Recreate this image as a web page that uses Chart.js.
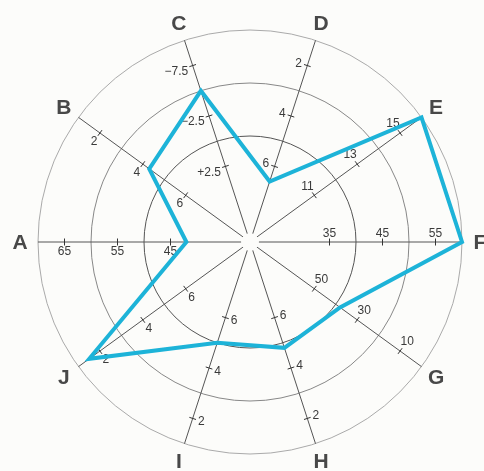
<!DOCTYPE html>
<html>
<head>
<meta charset="utf-8">
<script src="https://cdn.jsdelivr.net/npm/chart.js@4/dist/chart.umd.min.js"></script>
<style>
  html, body { margin: 0; padding: 0; background: #fcfcfa; }
  canvas { display: block; }
</style>
</head>
<body>
<canvas id="radar" width="484" height="471"></canvas>
<script>
// axes, clockwise starting at the left
const labels = ['A', 'B', 'C', 'D', 'E', 'F', 'G', 'H', 'I', 'J'];
// value of each axis at the centre and on the outer ring
const axisInner = [30, 9, 10, 9, 8, 20, 80, 9, 9, 9];
const axisOuter = [70, 1, -10, 1, 16, 60, 0, 1, 1, 1];
// labelled ticks on every axis
const tickValues = [
    [45, 55, 65], [6, 4, 2], [2.5, -2.5, -7.5], [6, 4, 2], [11, 13, 15],
    [35, 45, 55], [50, 30, 10], [6, 4, 2], [6, 4, 2], [6, 4, 2]
];
const tickLabels = [
    ['45', '55', '65'], ['6', '4', '2'], ['+2.5', '\u22122.5', '\u22127.5'], ['6', '4', '2'], ['11', '13', '15'],
    ['35', '45', '55'], ['50', '30', '10'], ['6', '4', '2'], ['6', '4', '2'], ['6', '4', '2']
];
// profile values read per axis
const values = [42, 4.3, -5, 6.6, 16, 60, 38, 4.8, 5, 1.5];

function toRing(i, v) {
    return (v - axisInner[i]) / (axisOuter[i] - axisInner[i]);
}

const bgColor = '#fcfcfa';

const axisDecor = {
    id: 'axisDecor',
    beforeDraw(chart) {
        const ctx = chart.ctx;
        ctx.save();
        ctx.fillStyle = bgColor;
        ctx.fillRect(0, 0, chart.width, chart.height);
        ctx.restore();
    },
    beforeDatasetsDraw(chart) {
        const { ctx, scales: { r } } = chart;
        const cx = r.xCenter, cy = r.yCenter;
        ctx.save();
        // hub gap in the middle
        ctx.fillStyle = bgColor;
        ctx.beginPath();
        ctx.arc(cx, cy, 9, 0, Math.PI * 2);
        ctx.fill();

        ctx.font = '12px "Liberation Sans", Arial, sans-serif';
        ctx.textAlign = 'center';
        ctx.textBaseline = 'middle';
        labels.forEach((lab, i) => {
            const end = r.getPointPosition(i, r.drawingArea);
            const ux = (end.x - cx) / r.drawingArea;
            const uy = (end.y - cy) / r.drawingArea;
            // label side: axis direction turned a quarter
            const px = uy, py = -ux;
            tickValues[i].forEach((v, k) => {
                const p = r.getPointPositionForValue(i, toRing(i, v));
                ctx.strokeStyle = '#333';
                ctx.lineWidth = 1;
                ctx.beginPath();
                ctx.moveTo(p.x - px * 3.5, p.y - py * 3.5);
                ctx.lineTo(p.x + px * 3.5, p.y + py * 3.5);
                ctx.stroke();

                const txt = tickLabels[i][k];
                const w = ctx.measureText(txt).width;
                const half = Math.abs(px) * w / 2 + Math.abs(py) * 4.5;
                const d = half + 4.5;
                ctx.fillStyle = '#3a3a3a';
                ctx.fillText(txt, p.x + px * d, p.y + py * d + 0.5);
            });
        });

        // axis letters
        ctx.font = 'bold 21px "Liberation Sans", Arial, sans-serif';
        ctx.fillStyle = '#484848';
        labels.forEach((lab, i) => {
            const p = r.getPointPosition(i, r.drawingArea + 18);
            ctx.fillText(lab, p.x, p.y + 1);
        });
        ctx.restore();
    }
};

new Chart(document.getElementById('radar'), {
    type: 'radar',
    data: {
        labels: labels,
        datasets: [{
            data: values.map((v, i) => toRing(i, v)),
            borderColor: '#1db3d8',
            borderWidth: 4,
            borderJoinStyle: 'miter',
            fill: false,
            pointRadius: 0,
            tension: 0
        }]
    },
    options: {
        responsive: false,
        animation: false,
        layout: {
            padding: { left: 38, right: 22, top: 30, bottom: 17 }
        },
        plugins: {
            legend: { display: false },
            tooltip: { enabled: false }
        },
        scales: {
            r: {
                min: 0,
                max: 1,
                startAngle: 270,
                ticks: { display: false, stepSize: 0.25 },
                pointLabels: { display: false },
                grid: {
                    circular: true,
                    lineWidth: 1,
                    color: function(context) {
                        const v = context.tick ? context.tick.value : 0;
                        if (v === 0.5) return '#555';
                        if (v === 0.75) return '#888';
                        if (v === 1) return '#aaa';
                        return 'rgba(0,0,0,0)';
                    }
                },
                angleLines: { color: '#555', lineWidth: 1 }
            }
        }
    },
    plugins: [axisDecor]
});
</script>
</body>
</html>
